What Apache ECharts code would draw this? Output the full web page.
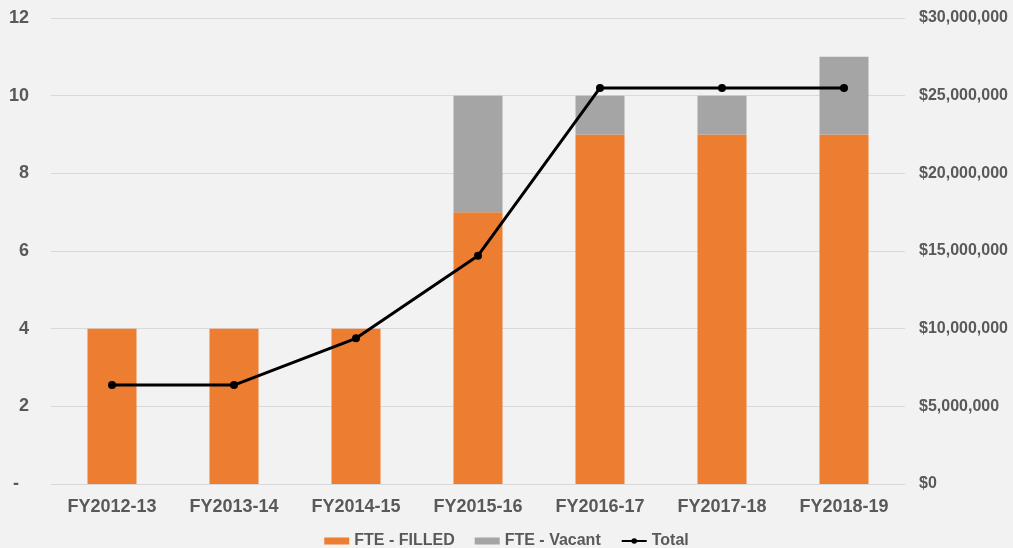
<!DOCTYPE html>
<html>
<head>
<meta charset="utf-8">
<style>
  html, body { margin: 0; padding: 0; background: #f2f2f2; }
  #chart { width: 1013px; height: 548px; }
</style>
<script src="https://cdn.jsdelivr.net/npm/echarts@6/dist/echarts.min.js"></script>
</head>
<body>
<div id="chart"></div>
<script>
// Fiscal years on the x axis
const years = ['FY2012-13', 'FY2013-14', 'FY2014-15', 'FY2015-16', 'FY2016-17', 'FY2017-18', 'FY2018-19'];

// FTE counts (left axis)
const fteFilled = [4, 4, 4, 7, 9, 9, 9];
const fteVacant = [0, 0, 0, 3, 1, 1, 2];

// Total dollars (right axis)
const totalDollars = [6370000, 6370000, 9380000, 14700000, 25500000, 25500000, 25500000];

const textColor = '#595959';
const gridColor = '#d9d9d9';
const font = 'Liberation Sans, Arial, sans-serif';

const chart = echarts.init(document.getElementById('chart'));

chart.setOption({
    backgroundColor: '#f2f2f2',
    animation: false,
    grid: { left: 51, right: 108, top: 18, bottom: 64, containLabel: false },
    legend: {
        top: 528,
        left: 'center',
        itemGap: 20,
        itemWidth: 25,
        itemHeight: 7,
        textStyle: { color: textColor, fontSize: 16, fontWeight: 'bold', fontFamily: font },
        data: [
            { name: 'FTE - FILLED', icon: 'rect' },
            { name: 'FTE - Vacant', icon: 'rect' },
            { name: 'Total' }
        ]
    },
    xAxis: {
        type: 'category',
        data: years,
        axisTick: { show: false },
        axisLine: { lineStyle: { color: gridColor, width: 1 } },
        axisLabel: { color: textColor, fontSize: 18, fontWeight: 'bold', fontFamily: font, margin: 14 }
    },
    yAxis: [
        {
            type: 'value',
            min: 0,
            max: 12,
            interval: 2,
            axisLine: { show: false },
            axisTick: { show: false },
            splitLine: { lineStyle: { color: gridColor, width: 1 } },
            axisLabel: {
                color: textColor, fontSize: 18, fontWeight: 'bold', fontFamily: font, margin: 22,
                formatter: v => v === 0 ? '-  ' : String(v)
            }
        },
        {
            type: 'value',
            min: 0,
            max: 30000000,
            interval: 5000000,
            axisLine: { show: false },
            axisTick: { show: false },
            splitLine: { show: false },
            axisLabel: {
                color: textColor, fontSize: 16, fontWeight: 'bold', fontFamily: font, margin: 14,
                formatter: v => '$' + v.toLocaleString('en-US')
            }
        }
    ],
    series: [
        {
            name: 'FTE - FILLED',
            type: 'bar',
            stack: 'fte',
            barWidth: 49,
            itemStyle: { color: '#ed7d31' },
            data: fteFilled
        },
        {
            name: 'FTE - Vacant',
            type: 'bar',
            stack: 'fte',
            barWidth: 49,
            itemStyle: { color: '#a5a5a5' },
            data: fteVacant
        },
        {
            name: 'Total',
            type: 'line',
            yAxisIndex: 1,
            symbol: 'circle',
            symbolSize: 8,
            lineStyle: { color: '#000000', width: 3 },
            itemStyle: { color: '#000000' },
            data: totalDollars
        }
    ]
});
</script>
</body>
</html>
